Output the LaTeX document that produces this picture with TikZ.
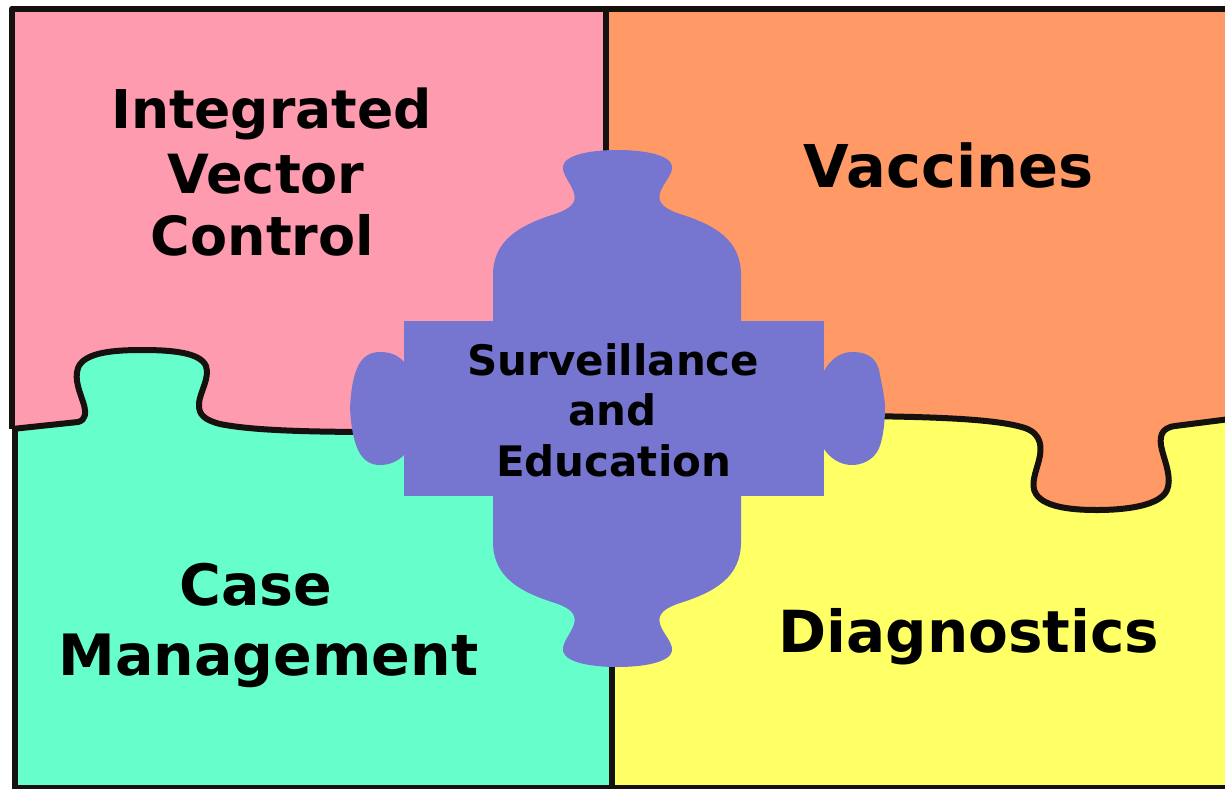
\documentclass[tikz,border=0pt]{standalone}
\usepackage{fontspec}
\setmainfont{DejaVu Sans}
\definecolor{pinkc}{HTML}{FF9BAF}
\definecolor{orangec}{HTML}{FF9966}
\definecolor{tealc}{HTML}{66FFCC}
\definecolor{yellowc}{HTML}{FFFF66}
\definecolor{purplec}{HTML}{7676D0}
\definecolor{linec}{HTML}{15110F}
\tikzset{
  edge/.style={draw=linec,line width=6pt,line join=round},
  big/.style={inner sep=0pt,anchor=base,font=\bfseries\fontsize{#1}{#1}\selectfont},
  big/.default=56,
  small/.style={inner sep=0pt,anchor=base,font=\bfseries\fontsize{42}{46}\selectfont},
}
\begin{document}
\begin{tikzpicture}[x=1pt,y=-1pt]
\useasboundingbox (0,0) rectangle (1225,788);
\clip (0,0) rectangle (1225,788);
% base fills
\fill[pinkc] (12,8.5) rectangle (620,445);
\fill[orangec] (606,8.5) rectangle (1230,520);
% teal region (with knob into pink)
\fill[tealc] (12,429) -- (78,422) .. controls (86,420) and (86,413) .. (84,405)
  .. controls (80,392) and (74,380) .. (78,368)
  .. controls (84,352) and (115,350) .. (142,350)
  .. controls (170,350) and (200,352) .. (206,366)
  .. controls (210,378) and (200,392) .. (199,403)
  .. controls (198,415) and (205,420) .. (220,424)
  .. controls (250,430) and (300,432) .. (360,432)
  -- (620,432) -- (620,790) -- (15,790) -- (15,429) -- cycle;
% yellow region (orange knob pokes down)
\fill[yellowc] (612,416) -- (870,416) .. controls (950,417) and (1000,420) .. (1025,428)
  .. controls (1042,434) and (1042,448) .. (1039,460)
  .. controls (1036,472) and (1030,485) .. (1036,494)
  .. controls (1045,508) and (1075,510) .. (1097,510)
  .. controls (1125,510) and (1160,506) .. (1167,490)
  .. controls (1172,478) and (1165,462) .. (1162,450)
  .. controls (1159,438) and (1160,428) .. (1175,426)
  -- (1230,419) -- (1230,790) -- (612,790) -- cycle;
% lines
\draw[edge] (1230,8.5) -- (12,8.5) -- (12,429);
\draw[edge] (15,429) -- (15,788) -- (1230,788);
\draw[edge] (606,8.5) -- (606,200);
\draw[edge] (612,620) -- (612,790);
\draw[edge] (12,429) -- (78,422) .. controls (86,420) and (86,413) .. (84,405)
  .. controls (80,392) and (74,380) .. (78,368)
  .. controls (84,352) and (115,350) .. (142,350)
  .. controls (170,350) and (200,352) .. (206,366)
  .. controls (210,378) and (200,392) .. (199,403)
  .. controls (198,415) and (205,420) .. (220,424)
  .. controls (250,430) and (300,432) .. (380,432);
\draw[edge] (860,416) .. controls (950,417) and (1000,420) .. (1025,428)
  .. controls (1042,434) and (1042,448) .. (1039,460)
  .. controls (1036,472) and (1030,485) .. (1036,494)
  .. controls (1045,508) and (1075,510) .. (1097,510)
  .. controls (1125,510) and (1160,506) .. (1167,490)
  .. controls (1172,478) and (1165,462) .. (1162,450)
  .. controls (1159,438) and (1160,428) .. (1175,426)
  -- (1230,419);
% central piece
\fill[purplec] (404,321) rectangle (824,496);
\fill[purplec] (493,330) -- (493,275) .. controls (493,240) and (520,225) .. (555,214)
  .. controls (570,209) and (577,203) .. (574,193)
  .. controls (571,183) and (562,175) .. (563,166)
  .. controls (565,155) and (590,150) .. (617,150)
  .. controls (645,150) and (670,155) .. (672,166)
  .. controls (673,175) and (663,183) .. (660,193)
  .. controls (657,203) and (665,209) .. (680,214)
  .. controls (715,225) and (741,240) .. (741,275)
  -- (741,542) .. controls (741,577) and (715,592) .. (680,603)
  .. controls (665,608) and (657,614) .. (660,624)
  .. controls (663,634) and (673,642) .. (672,651)
  .. controls (670,662) and (645,667) .. (617,667)
  .. controls (590,667) and (565,662) .. (563,651)
  .. controls (562,642) and (571,634) .. (574,624)
  .. controls (577,614) and (570,608) .. (555,603)
  .. controls (520,592) and (493,577) .. (493,542) -- cycle;
\fill[purplec] (410,362) -- (404,362) .. controls (398,355) and (390,352) .. (380,352)
  .. controls (360,352) and (352,370) .. (350,408)
  .. controls (352,445) and (360,465) .. (380,465)
  .. controls (390,465) and (398,461) .. (404,455) -- (410,455) -- cycle;
\fill[purplec] (818,371) -- (824,371) .. controls (830,360) and (840,352) .. (852,352)
  .. controls (870,352) and (878,360) .. (880,375)
  .. controls (883,390) and (885,400) .. (885,408)
  .. controls (885,425) and (882,445) .. (877,452)
  .. controls (872,460) and (862,465) .. (852,465)
  .. controls (840,465) and (830,458) .. (824,449) -- (818,449) -- cycle;
% labels
\node[big=53.5] (ivc1) at (271.5,128) {Integrated};
\node[big=54] (ivc2) at (266,193) {Vector};
\node[big=54] (ivc3) at (262.5,255) {Control};
\node[big=59] (vac) at (948.5,187) {Vaccines};
\node[big=57] (cm1) at (256,605) {Case};
\node[big=57] (cm2) at (268.5,675) {Management};
\node[big=58] (dia) at (969,652) {Diagnostics};
\node[small] (se1) at (613.5,375) {Surveillance};
\node[small] (se2) at (612.7,425) {and};
\node[small] (se3) at (613.6,476) {Education};
\end{tikzpicture}
\end{document}
